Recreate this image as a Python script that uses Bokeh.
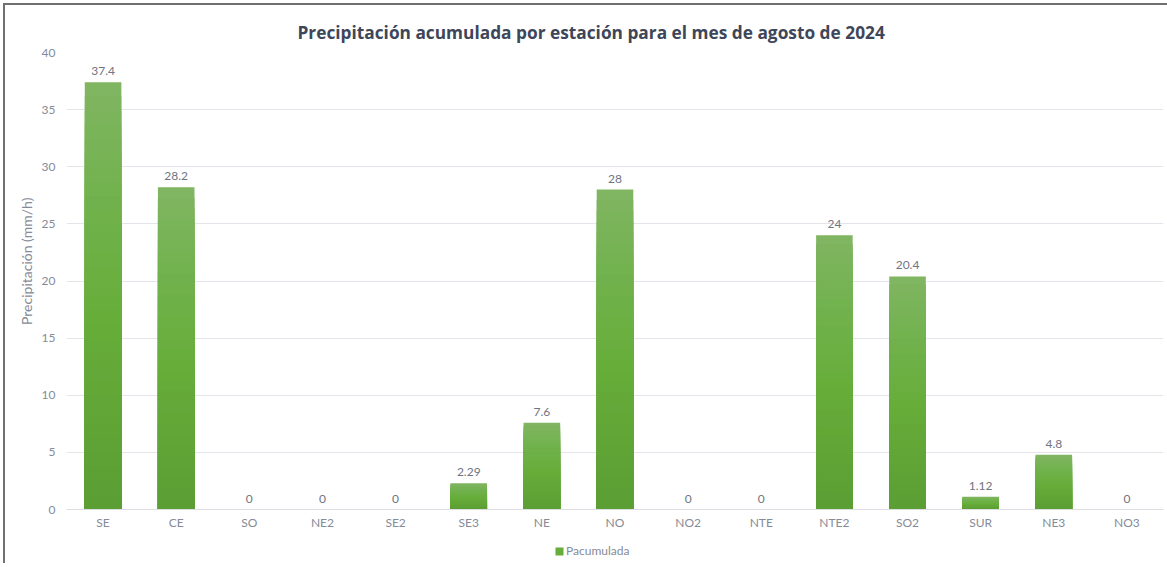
from bokeh.plotting import figure
from bokeh.models import ColumnDataSource, Legend, LegendItem, FixedTicker
from bokeh.layouts import column
from bokeh.core.properties import value
from bokeh.embed import file_html
from bokeh.resources import INLINE

# ---- data ----
stations = ["SE", "CE", "SO", "NE2", "SE2", "SE3", "NE", "NO", "NO2", "NTE", "NTE2", "SO2", "SUR", "NE3", "NO3"]
pacumulada = [37.4, 28.2, 0, 0, 0, 2.29, 7.6, 28, 0, 0, 24, 20.4, 1.12, 4.8, 0]
y_ticks = [0, 5, 10, 15, 20, 25, 30, 35, 40]

title_text = "Precipitación acumulada por estación para el mes de agosto de 2024"
y_label = "Precipitación (mm/h)"
series_name = "Pacumulada"

# ---- gradient helper (styling only) ----
def hex2rgb(h):
    h = h.lstrip("#")
    return tuple(int(h[i:i + 2], 16) for i in (0, 2, 4))

def rgb2hex(c):
    return "#%02x%02x%02x" % tuple(int(round(v)) for v in c)

stops = [(0.0, "#5b9d33"), (0.45, "#67ad3a"), (0.75, "#72b24f"), (1.0, "#81b562")]

def grad(t):
    for (t0, c0), (t1, c1) in zip(stops[:-1], stops[1:]):
        if t0 <= t <= t1:
            f = (t - t0) / (t1 - t0)
            a, b = hex2rgb(c0), hex2rgb(c1)
            return rgb2hex([a[k] + (b[k] - a[k]) * f for k in range(3)])
    return stops[-1][1]

# each bar is painted as nested layers (tallest = top colour first), giving a vertical gradient
N = 30
seg_x, seg_top, seg_color = [], [], []
for i in range(N, 0, -1):
    for s, v in zip(stations, pacumulada):
        if v <= 0:
            continue
        seg_x.append(s)
        seg_top.append(v * i / N)
        seg_color.append(grad((i - 0.5) / N))

seg_src = ColumnDataSource(dict(x=seg_x, top=seg_top, color=seg_color))
lab_src = ColumnDataSource(dict(x=stations, y=pacumulada, text=[f"{v:g}" for v in pacumulada]))

FONT = "Lato"
GRAY = "#858b98"

p = figure(
    x_range=stations, y_range=(0, 40),
    width=1162, height=534,
    output_backend="svg", toolbar_location=None,
    min_border_left=61, min_border_right=4, min_border_top=47, min_border_bottom=30,
    title=title_text,
)

p.title.align = "left"
p.title.offset = 231
p.title.text_font = "Open Sans"
p.title.text_font_style = "bold"
p.title.text_font_size = "17.3px"
p.title.text_color = "#3e4659"
p.title.standoff = 18

p.vbar(x="x", bottom=0, top="top", width=0.5, color="color", source=seg_src, line_width=0)

p.text(x="x", y="y", text="text", source=lab_src, text_align="center", text_baseline="bottom",
       y_offset=-7, text_font=value(FONT), text_font_size="12px", text_color="#6f7482")

p.outline_line_color = None
p.xgrid.grid_line_color = None
p.ygrid.grid_line_color = "#e4e4ea"
p.ygrid.grid_line_width = 1
p.yaxis.ticker = FixedTicker(ticks=y_ticks)

for ax in (p.xaxis, p.yaxis):
    ax.axis_line_color = None
    ax.major_tick_line_color = None
    ax.minor_tick_line_color = None
    ax.major_tick_out = 0
    ax.major_label_text_font = FONT
    ax.major_label_text_font_size = "12px"
    ax.major_label_text_color = GRAY

p.xaxis.axis_line_color = "#dcdce2"
p.xaxis.major_label_standoff = 5
p.yaxis.major_label_standoff = 11
p.yaxis.axis_label = "\u00a0" * 11 + y_label
p.yaxis.axis_label_text_font = FONT
p.yaxis.axis_label_text_font_style = "normal"
p.yaxis.axis_label_text_font_size = "14px"
p.yaxis.axis_label_text_color = GRAY
p.yaxis.axis_label_standoff = 4

# legend strip under the chart
leg = figure(width=1162, height=24, x_range=(0, 1), y_range=(0, 1),
             output_backend="svg", toolbar_location=None,
             x_axis_location=None, y_axis_location=None, min_border=0)
leg.outline_line_color = None
leg.xgrid.grid_line_color = None
leg.ygrid.grid_line_color = None
dummy = leg.vbar(x=[0.5], bottom=[0.5], top=[0.5], width=0.0, fill_color="#67ad3a",
                 line_color="#67ad3a", line_alpha=0, line_width=0)
legend = Legend(items=[LegendItem(label=series_name, renderers=[dummy])],
                orientation="horizontal", location=(488, 5),
                label_text_font=FONT, label_text_font_size="12px", label_text_color=GRAY,
                glyph_width=10, glyph_height=10, label_standoff=2, padding=0, margin=0,
                label_height=14,
                border_line_color=None, background_fill_alpha=0)
leg.add_layout(legend)

layout = column(p, leg, spacing=0,
                styles={"margin-left": "3px", "margin-top": "3px",
                        "border-left": "2px solid #707070", "border-top": "2px solid #707070"})

open("out.html", "w").write(file_html(layout, INLINE))
